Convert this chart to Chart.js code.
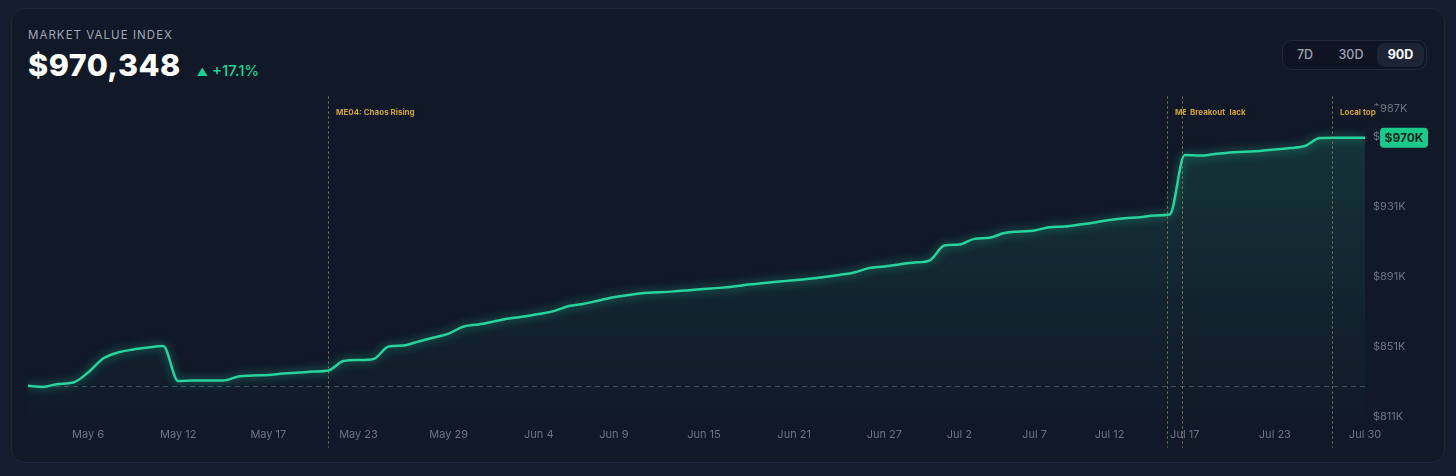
<!DOCTYPE html>
<html>
<head>
<meta charset="utf-8">
<script src="https://cdn.jsdelivr.net/npm/chart.js@4.4.1/dist/chart.umd.min.js"></script>
<style>
  html, body { margin: 0; padding: 0; }
  body { width: 1456px; height: 476px; background: #161d30; position: relative; overflow: hidden; font-family: Inter, "Noto Sans", sans-serif; }
  .card { position: absolute; left: 11px; top: 8px; width: 1432px; height: 453px; background: #111827; border: 1px solid #1e2739; border-radius: 14px; }
  .title { position: absolute; left: 28px; top: 29px; font-size: 11.5px; line-height: 12px; letter-spacing: 1.05px; color: #a0a7b5; }
  .price-row { position: absolute; left: 28px; top: 50px; display: flex; align-items: baseline; }
  .price { font-size: 30.5px; line-height: 30px; font-weight: 800; color: #ffffff; letter-spacing: 0.5px; }
  .change { margin-left: 16px; font-size: 15px; font-weight: 500; color: #1fd195; }
  .change .arrow { font-size: 11px; margin-right: 4px; }
  .range { position: absolute; left: 1282px; top: 40px; width: 143px; height: 28px; border: 1px solid #222b3d; border-radius: 10px; background: #0e1422; }
  .range span { position: absolute; top: 0; height: 28px; line-height: 28px; font-size: 12.5px; font-weight: 500; color: #9aa2b1; text-align: center; }
  .range .active { top: 2px; height: 24px; line-height: 24px; background: #1c2436; border-radius: 8px; color: #ffffff; font-weight: 700; }
  #chart { position: absolute; left: 0; top: 0; }
</style>
</head>
<body>
<div class="card"></div>
<div class="title">MARKET VALUE INDEX</div>
<div class="price-row">
  <div class="price">$970,348</div>
  <div class="change"><span class="arrow">&#9650;</span>+17.1%</div>
</div>
<div class="range">
  <span style="left:8px;width:28px;">7D</span>
  <span style="left:52px;width:32px;">30D</span>
  <span class="active" style="left:94px;width:47px;">90D</span>
</div>
<canvas id="chart" width="1456" height="476"></canvas>
<script>
// Daily snapshots (one duplicate mid-May, Jul 27 missing)
const categories = [
  'May 2', 'May 3', 'May 4', 'May 5', 'May 6', 'May 7', 'May 8', 'May 9', 'May 10', 'May 11', 'May 12',
  'May 13', 'May 14', 'May 14', 'May 15', 'May 16', 'May 17', 'May 18', 'May 19', 'May 20', 'May 21',
  'May 22', 'May 23', 'May 24', 'May 25', 'May 26', 'May 27', 'May 28', 'May 29', 'May 30', 'May 31',
  'Jun 1', 'Jun 2', 'Jun 3', 'Jun 4', 'Jun 5', 'Jun 6', 'Jun 7', 'Jun 8', 'Jun 9', 'Jun 10',
  'Jun 11', 'Jun 12', 'Jun 13', 'Jun 14', 'Jun 15', 'Jun 16', 'Jun 17', 'Jun 18', 'Jun 19', 'Jun 20',
  'Jun 21', 'Jun 22', 'Jun 23', 'Jun 24', 'Jun 25', 'Jun 26', 'Jun 27', 'Jun 28', 'Jun 29', 'Jun 30',
  'Jul 1', 'Jul 2', 'Jul 3', 'Jul 4', 'Jul 5', 'Jul 6', 'Jul 7', 'Jul 8', 'Jul 9', 'Jul 10',
  'Jul 11', 'Jul 12', 'Jul 13', 'Jul 14', 'Jul 15', 'Jul 16', 'Jul 17', 'Jul 18', 'Jul 19', 'Jul 20',
  'Jul 21', 'Jul 22', 'Jul 23', 'Jul 24', 'Jul 25', 'Jul 26', 'Jul 28', 'Jul 29', 'Jul 30'
];

// Index value in $K
const indexValues = [
  828.6, 827.9, 829.6, 830.4, 836.1, 844.1, 847.6, 849.3, 850.4, 851.3,
  831.3, 831.6, 831.6, 831.6, 833.9, 834.4, 834.7, 835.6, 836.1, 836.7,
  837.3, 842.7, 843.3, 843.9, 851.0, 851.6, 853.9, 856.1, 858.4, 862.4,
  863.6, 865.3, 867.0, 868.1, 869.6, 871.2, 874.1, 875.4, 877.3, 879.2,
  880.4, 881.6, 882.0, 882.5, 883.2, 883.9, 884.5, 885.3, 886.4, 887.3,
  888.1, 888.9, 889.7, 890.7, 891.9, 893.3, 895.9, 896.7, 897.9, 899.0,
  900.1, 908.7, 909.3, 912.5, 913.1, 915.9, 916.7, 917.3, 919.2, 919.6,
  920.7, 921.9, 923.3, 924.3, 924.8, 925.9, 926.4, 960.4, 960.1, 961.0,
  961.9, 962.3, 962.7, 963.6, 964.4, 965.6, 970.1, 970.3, 970.3, 970.35
];

const baselineValue = 828.6;

const xTickLabels = ['May 6', 'May 12', 'May 17', 'May 23', 'May 29', 'Jun 4', 'Jun 9', 'Jun 15',
  'Jun 21', 'Jun 27', 'Jul 2', 'Jul 7', 'Jul 12', 'Jul 17', 'Jul 23', 'Jul 30'];
const yTickValues = [811, 851, 891, 931, 971, 987];

// Event markers (category index, may fall between snapshots)
const eventPositions = [20, 75.8, 76.8, 86.8];
const eventLabels = ['ME04: Chaos Rising', 'ME05: Pitch Black', 'Breakout', 'Local top'];

const lineColor = '#27d49d';
const cardBg = '#111827';

Chart.defaults.font.family = 'Inter, "Noto Sans", sans-serif';

// Glow around the main line
const glowPlugin = {
    id: 'glow',
    beforeDatasetDraw(chart, args) {
        if (args.index !== 0) return;
        chart.ctx.save();
        chart.ctx.shadowColor = 'rgba(39, 212, 157, 0.7)';
        chart.ctx.shadowBlur = 10;
    },
    afterDatasetDraw(chart, args) {
        if (args.index !== 0) return;
        chart.ctx.restore();
    }
};

// Dashed line at the starting value
const baselinePlugin = {
    id: 'baseline',
    beforeDatasetsDraw(chart) {
        const { ctx, chartArea, scales } = chart;
        const y = Math.round(scales.y.getPixelForValue(baselineValue)) + 0.5;
        ctx.save();
        ctx.strokeStyle = 'rgba(120, 134, 160, 0.45)';
        ctx.lineWidth = 1;
        ctx.setLineDash([5, 4]);
        ctx.beginPath();
        ctx.moveTo(chartArea.left, y);
        ctx.lineTo(chartArea.right, y);
        ctx.stroke();
        ctx.restore();
    }
};

// Vertical event markers with labels
const eventsPlugin = {
    id: 'events',
    afterDatasetsDraw(chart) {
        const { ctx, chartArea, scales } = chart;
        ctx.save();
        ctx.font = 'bold 8px Inter, "Noto Sans", sans-serif';
        ctx.textBaseline = 'middle';
        eventPositions.forEach((pos, i) => {
            const x = Math.round(scales.x.getPixelForValue(pos)) + 0.5;
            ctx.strokeStyle = 'rgba(170, 145, 90, 0.8)';
            ctx.lineWidth = 1;
            ctx.setLineDash([2, 3]);
            ctx.beginPath();
            ctx.moveTo(x, chartArea.top - 12);
            ctx.lineTo(x, chartArea.bottom + 31);
            ctx.stroke();

            const w = ctx.measureText(eventLabels[i]).width;
            const ty = chartArea.top + 4;
            ctx.fillStyle = cardBg;
            ctx.fillRect(x + 3.5, ty - 7, w + 8, 14);
            ctx.fillStyle = '#cfa236';
            ctx.fillText(eventLabels[i], x + 7.5, ty);
        });
        ctx.restore();
    }
};

// Current value badge on the y axis
const badgePlugin = {
    id: 'badge',
    afterDraw(chart) {
        const { ctx, chartArea, scales } = chart;
        const last = indexValues[indexValues.length - 1];
        const y = scales.y.getPixelForValue(last);
        const x = chartArea.right + 15;
        ctx.save();
        ctx.fillStyle = '#1cc98d';
        ctx.beginPath();
        ctx.roundRect(x, y - 10, 48, 20, 4);
        ctx.fill();
        ctx.fillStyle = '#06261a';
        ctx.font = 'bold 12px Inter, "Noto Sans", sans-serif';
        ctx.textAlign = 'center';
        ctx.textBaseline = 'middle';
        ctx.fillText('$' + Math.round(last) + 'K', x + 24, y + 0.5);
        ctx.restore();
    }
};

const ctx = document.getElementById('chart').getContext('2d');

new Chart(ctx, {
    type: 'line',
    data: {
        labels: categories,
        datasets: [
            {
                data: indexValues,
                borderColor: lineColor,
                borderWidth: 2.5,
                fill: false,
                pointRadius: 0,
                cubicInterpolationMode: 'monotone',
                order: 0
            },
            {
                data: indexValues,
                borderWidth: 0,
                pointRadius: 0,
                cubicInterpolationMode: 'monotone',
                fill: 'start',
                backgroundColor: function(context) {
                    const area = context.chart.chartArea;
                    if (!area) return 'rgba(39, 212, 157, 0.08)';
                    const g = context.chart.ctx.createLinearGradient(0, area.top, 0, area.bottom);
                    g.addColorStop(0, 'rgba(39, 212, 157, 0.16)');
                    g.addColorStop(1, 'rgba(39, 212, 157, 0.01)');
                    return g;
                },
                order: 1
            }
        ]
    },
    options: {
        responsive: false,
        animation: false,
        layout: {
            padding: { left: 28, top: 108.5, right: 0, bottom: 19.5 }
        },
        plugins: {
            legend: { display: false },
            tooltip: { enabled: false }
        },
        scales: {
            x: {
                type: 'category',
                grid: { display: false, drawTicks: false },
                border: { display: false },
                afterFit: function(scale) { scale.height = 40; },
                afterBuildTicks: function(scale) {
                    scale.ticks = xTickLabels.map(label => ({ value: categories.indexOf(label) }));
                },
                ticks: {
                    autoSkip: false,
                    maxRotation: 0,
                    minRotation: 0,
                    padding: 12,
                    color: '#6b7384',
                    font: { size: 11 }
                }
            },
            y: {
                position: 'right',
                min: 811,
                max: 987,
                grid: { display: false, drawTicks: false },
                border: { display: false },
                afterFit: function(scale) { scale.width = 91; },
                afterBuildTicks: function(scale) {
                    scale.ticks = yTickValues.map(v => ({ value: v }));
                },
                ticks: {
                    padding: 8,
                    color: '#6b7384',
                    font: { size: 11 },
                    callback: function(value) {
                        return '$' + value + 'K';
                    }
                }
            }
        }
    },
    plugins: [glowPlugin, baselinePlugin, eventsPlugin, badgePlugin]
});
</script>
</body>
</html>
